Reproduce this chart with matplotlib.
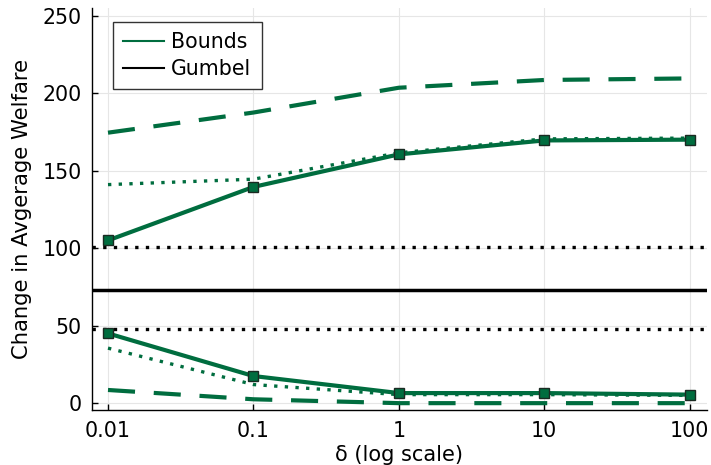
import numpy as np
import matplotlib.pyplot as plt
from matplotlib.lines import Line2D

# delta values (log scale)
delta = [0.01, 0.1, 1, 10, 100]

# bounds series
upper_solid = [105, 139.5, 160.5, 169.5, 170]
lower_solid = [45, 17.5, 6.5, 6.5, 5.5]
upper_dot = [141, 144.5, 161.5, 170.5, 171]
lower_dot = [35.5, 12, 5.5, 5.5, 5]
upper_dash = [174.5, 187.5, 203.5, 208.5, 209.5]
lower_dash = [8.5, 2.5, 0, 0, 0]

# gumbel reference
gumbel_mid = 73
gumbel_hi = 101
gumbel_lo = 48

green = '#006d3f'
fs = 14.8
dash = (0, (6.5, 4.5))
dot = (0, (1, 2.2))

fig = plt.figure(figsize=(7.11, 4.65), dpi=100)
ax = fig.add_axes([0.1294, 0.118, 0.8646, 0.865])

ax.plot(delta, upper_dash, color=green, lw=3, linestyle=dash)
ax.plot(delta, lower_dash, color=green, lw=3, linestyle=dash)
ax.plot(delta, upper_dot, color=green, lw=2.4, linestyle=dot, dash_capstyle='butt')
ax.plot(delta, lower_dot, color=green, lw=2.4, linestyle=dot, dash_capstyle='butt')

ax.axhline(gumbel_hi, color='black', lw=2.4, linestyle=dot)
ax.axhline(gumbel_lo, color='black', lw=2.4, linestyle=dot)
ax.axhline(gumbel_mid, color='black', lw=2.5)

ax.plot(delta, upper_solid, color=green, lw=3, marker='s', ms=7,
        mec='#1a2a22', mew=1)
ax.plot(delta, lower_solid, color=green, lw=3, marker='s', ms=7,
        mec='#1a2a22', mew=1)

# legend handles
handles = [Line2D([], [], color=green, lw=1.5), Line2D([], [], color='black', lw=1.5)]
leg = ax.legend(handles, ['Bounds', 'Gumbel'], loc='upper left', fontsize=fs,
                fancybox=False, framealpha=1, edgecolor='#333333',
                handlelength=2.0, handletextpad=0.35, borderaxespad=0.4,
                borderpad=0.5, labelspacing=0.32,
                bbox_to_anchor=(0.02, 0.985))
leg.get_frame().set_linewidth(1)

ax.set_xscale('log')
ax.set_xlim(10 ** -2.11, 10 ** 2.117)
ax.set_ylim(-4.5, 255)
ax.set_xticks(delta)
ax.set_xticklabels(['0.01', '0.1', '1', '10', '100'])
ax.minorticks_off()
ax.set_yticks([0, 50, 100, 150, 200, 250])

ax.grid(True, color='#e6e6e6', lw=0.8)
ax.set_axisbelow(True)
for s in ['top', 'right']:
    ax.spines[s].set_visible(False)
ax.spines['left'].set_linewidth(1)
ax.spines['bottom'].set_linewidth(1)
ax.tick_params(direction='in', labelsize=fs, length=4, width=1)
ax.tick_params(axis='y', pad=7.5)
ax.tick_params(axis='x', pad=7.5)

ax.set_xlabel('δ (log scale)', fontsize=15, labelpad=3)
ax.set_ylabel('Change in Avgerage Welfare', fontsize=15.2, labelpad=7.5)

fig.savefig('out.png', dpi=100)
